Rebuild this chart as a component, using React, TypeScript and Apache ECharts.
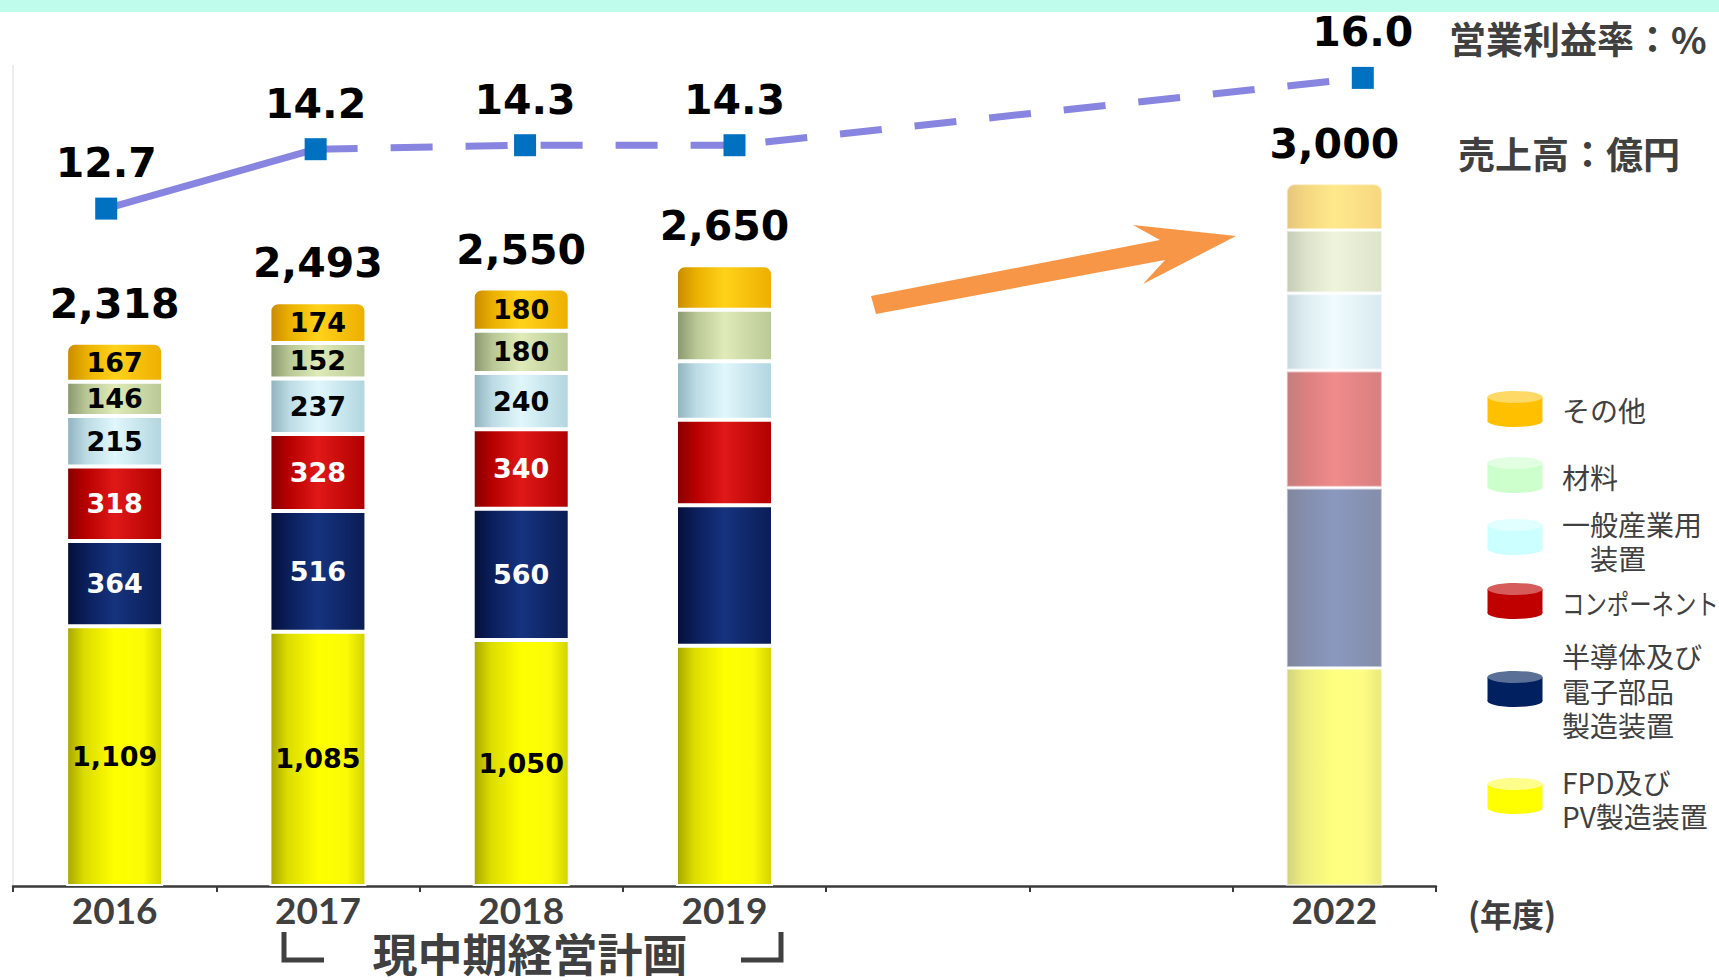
import React, { useEffect, useRef } from 'react';
import * as echarts from 'echarts';

// ---------- data ----------
const years = ['2016', '2017', '2018', '2019', '2020', '2021', '2022'];
const hiddenYears = ['2020', '2021'];
const labeledYears = ['2016', '2017', '2018'];
const planYear = '2022';
const planStartYear = '2017';

const fpdPv = [1109, 1085, 1050, 1025, null, null, 930];
const semiElec = [364, 516, 560, 600, null, null, 770];
const components = [318, 328, 340, 365, null, null, 500];
const industrial = [215, 237, 240, 250, null, null, 330];
const materials = [146, 152, 180, 220, null, null, 270];
const others = [167, 174, 180, 190, null, null, 200];
const salesTotals = [2318, 2493, 2550, 2650, null, null, 3000];
const marginPct = [12.7, 14.2, 14.3, 14.3, null, null, 16.0];

const seriesNames = ['FPD及びPV製造装置', '半導体及び電子部品製造装置', 'コンポーネント', '一般産業用装置', '材料', 'その他'];

const legendLines = [
  ['その他'],
  ['材料'],
  ['一般産業用', '　装置'],
  ['コンポーネント'],
  ['半導体及び', '電子部品', '製造装置'],
  ['FPD及び', 'PV製造装置'],
];

const unitMargin = '営業利益率：%';
const unitSales = '売上高：億円';
const yearUnit = '(年度)';
const planTitle = '現中期経営計画';

// ---------- styles ----------
const grad = (stops: [number, string][]) =>
  new echarts.graphic.LinearGradient(0, 0, 1, 0, stops.map(([offset, color]) => ({ offset, color })));

const segStyles = [
  { stops: [[0, '#a6a600'], [0.18, '#dcdc00'], [0.5, '#ffff00'], [0.8, '#fbfb08'], [1, '#d2d200']], label: '#000' },
  { stops: [[0, '#050f38'], [0.2, '#0b1f5c'], [0.5, '#16337f'], [1, '#0a1d55']], label: '#fff' },
  { stops: [[0, '#860000'], [0.2, '#b80000'], [0.5, '#e01818'], [1, '#b00000']], label: '#fff' },
  { stops: [[0, '#90b2bd'], [0.2, '#bcdbe4'], [0.5, '#e0f7fc'], [1, '#b2d5df']], label: '#000' },
  { stops: [[0, '#8a966e'], [0.2, '#b8c795'], [0.5, '#dfebb8'], [1, '#b9c896']], label: '#000' },
  { stops: [[0, '#c98a00'], [0.2, '#eab000'], [0.5, '#ffd21a'], [1, '#eeae00']], label: '#000' },
];

const legendColors = [
  { body: '#ffc000', top: '#ffd966' },
  { body: '#ccffcc', top: '#e2ffe2' },
  { body: '#ccffff', top: '#e2ffff' },
  { body: '#c00000', top: '#d65c5c' },
  { body: '#002060', top: '#5b7096' },
  { body: '#ffff00', top: '#ffff8c' },
];

const fmt = (v: number) => Number(v).toLocaleString('en-US');

function buildOption() {
  const segData = [fpdPv, semiElec, components, industrial, materials, others];
  const planIdx = years.indexOf(planYear);
  const startIdx = years.indexOf(planStartYear);

  const barSeries = segData.map((arr, si) => ({
    type: 'bar',
    name: seriesNames[si],
    stack: 'sales',
    xAxisIndex: 0,
    yAxisIndex: 0,
    barWidth: 97,
    itemStyle: {
      color: grad(segStyles[si].stops as [number, string][]),
      borderColor: '#ffffff',
      borderWidth: 2,
      borderRadius: si === segData.length - 1 ? [8, 8, 0, 0] : 0,
    },
    label: {
      show: true,
      position: 'inside',
      color: segStyles[si].label,
      fontFamily: 'DejaVu Sans',
      fontWeight: 'bold',
      fontSize: 27,
      formatter: (p: any) => fmt(p.value),
    },
    data: arr.map((v, i) =>
      v == null
        ? '-'
        : {
            value: v,
            label: { show: labeledYears.includes(years[i]) },
            itemStyle: i === planIdx ? { opacity: 0.5 } : {},
          }
    ),
  }));

  const totalSeries = {
    type: 'scatter',
    xAxisIndex: 0,
    yAxisIndex: 0,
    symbolSize: 1,
    itemStyle: { color: 'rgba(0,0,0,0)', opacity: 1 },
    z: 6,
    label: {
      show: true,
      position: 'top',
      distance: 18,
      color: '#000000',
      fontFamily: 'DejaVu Sans',
      fontWeight: 'bold',
      fontSize: 41,
      formatter: (p: any) => fmt(p.value),
    },
    data: salesTotals.map((v) => (v == null ? '-' : v)),
  };

  const lineColor = '#8885e0';
  const solidLine = {
    type: 'line',
    xAxisIndex: 1,
    yAxisIndex: 1,
    showSymbol: false,
    z: 3,
    lineStyle: { color: lineColor, width: 7 },
    data: marginPct.map((v, i) => (i <= startIdx && v != null ? v : '-')),
  };
  const dashedLine = {
    type: 'line',
    xAxisIndex: 1,
    yAxisIndex: 1,
    showSymbol: false,
    connectNulls: true,
    z: 3,
    lineStyle: { color: lineColor, width: 7, type: [42, 33] },
    data: marginPct.map((v, i) => (i >= startIdx && v != null ? v : '-')),
  };
  const markers = {
    type: 'scatter',
    xAxisIndex: 1,
    yAxisIndex: 1,
    symbol: 'rect',
    symbolSize: 22,
    z: 5,
    itemStyle: { color: '#0070c0', opacity: 1 },
    label: {
      show: true,
      position: 'top',
      distance: 14,
      color: '#000000',
      fontFamily: 'DejaVu Sans',
      fontWeight: 'bold',
      fontSize: 41,
      formatter: (p: any) => Number(p.value).toFixed(1),
    },
    data: marginPct.map((v) => (v == null ? '-' : v)),
  };

  // ---------- decorations ----------
  const g: any[] = [];
  g.push({ type: 'rect', shape: { x: 0, y: 0, width: 1719, height: 12 }, style: { fill: '#c0fcec' }, silent: true });
  g.push({
    type: 'polygon',
    shape: {
      points: [
        [871, 296], [1160, 240], [1133, 225], [1236, 236], [1143, 284], [1165, 260], [876, 314],
      ],
    },
    style: { fill: '#f79646' },
    silent: true,
  });

  const cjk = '"Noto Sans CJK JP", "Noto Sans", sans-serif';
  const textEl = (text: string, x: number, y: number, size: number, weight: string, extra: any = {}, lh?: number) => ({
    type: 'text',
    x,
    y,
    silent: true,
    ...extra,
    style: {
      text, fontSize: size, fontFamily: cjk, fontWeight: weight, fill: '#404040', align: 'left', verticalAlign: 'middle',
      ...(lh ? { lineHeight: lh } : {}),
    },
  });

  g.push(textEl(unitMargin, 1449, 38, 37, 'bold'));
  g.push(textEl(unitSales, 1458, 153, 37, 'bold'));
  g.push(textEl(yearUnit, 1468, 913, 32, 'bold'));
  g.push({
    type: 'text',
    x: 530,
    y: 952,
    silent: true,
    style: { text: planTitle, fontSize: 45, fontFamily: cjk, fontWeight: 'bold', fill: '#404040', align: 'center', verticalAlign: 'middle', lineHeight: 40 },
  });
  g.push({ type: 'polyline', shape: { points: [[284, 932], [284, 960], [324, 960]] }, style: { stroke: '#404040', lineWidth: 5, fill: null }, silent: true });
  g.push({ type: 'polyline', shape: { points: [[741, 960], [781, 960], [781, 932]] }, style: { stroke: '#404040', lineWidth: 5, fill: null }, silent: true });

  // legend
  const iconY = [409, 475, 537, 601, 689, 796];
  const textY = [[410], [477], [524, 558], [603], [656, 691, 725], [782, 816]];
  legendLines.forEach((lines, li) => {
    const cx = 1515;
    const cy = iconY[li];
    const c = legendColors[li];
    g.push({ type: 'ellipse', shape: { cx, cy: cy + 12, rx: 27.5, ry: 6 }, style: { fill: c.body }, silent: true });
    g.push({ type: 'rect', shape: { x: cx - 27.5, y: cy - 12, width: 55, height: 24 }, style: { fill: c.body }, silent: true });
    g.push({ type: 'ellipse', shape: { cx, cy: cy - 12, rx: 27.5, ry: 6 }, style: { fill: c.top }, silent: true });
    lines.forEach((t, k) => {
      const extra = t.length >= 7 ? { scaleX: 0.8 } : {};
      g.push(textEl(t, 1562, textY[li][k], 28, 'normal', extra, 30));
    });
  });

  return {
    animation: false,
    backgroundColor: '#ffffff',
    grid: [
      { left: 13, width: 1423, top: 66, bottom: 94 },
      { left: 1.5, width: 1466, top: 66, bottom: 94 },
    ],
    xAxis: [
      {
        type: 'category',
        gridIndex: 0,
        data: years,
        boundaryGap: true,
        axisLine: { lineStyle: { color: '#3a3a3a', width: 2.5 } },
        axisTick: { show: true, length: 6, lineStyle: { color: '#3a3a3a', width: 2 } },
        axisLabel: {
          fontFamily: 'Lato',
          fontWeight: 'bold',
          fontSize: 37,
          color: '#404040',
          margin: 6,
          lineHeight: 34,
          formatter: (v: string) => (hiddenYears.includes(v) ? '' : v),
        },
      },
      { type: 'category', gridIndex: 1, data: years, show: false },
    ],
    yAxis: [
      {
        type: 'value',
        gridIndex: 0,
        min: 0,
        max: 3500,
        axisLine: { show: true, lineStyle: { color: '#ececec', width: 2 } },
        axisLabel: { show: false },
        axisTick: { show: false },
        splitLine: { show: false },
      },
      { type: 'value', gridIndex: 1, min: -4.4, max: 16.3, show: false, splitLine: { show: false } },
    ],
    series: [...barSeries, totalSeries, solidLine, dashedLine, markers],
    graphic: g,
  };
}

export default function App() {
  const ref = useRef<HTMLDivElement>(null);
  useEffect(() => {
    const chart = echarts.init(ref.current!, null, { renderer: 'svg' });
    chart.setOption(buildOption() as any);
    return () => chart.dispose();
  }, []);
  return (
    <div
      ref={ref}
      style={{ position: 'fixed', left: 0, top: 0, width: 1719, height: 980, background: '#fff' }}
    />
  );
}
